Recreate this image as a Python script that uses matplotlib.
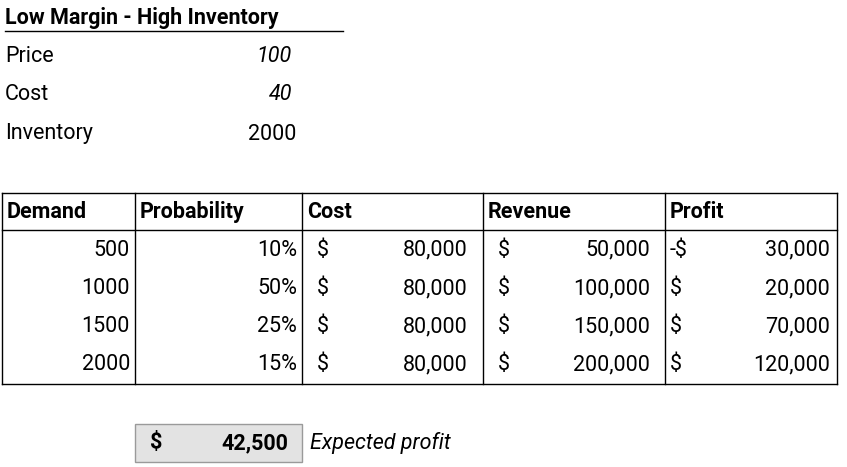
import matplotlib.pyplot as plt

plt.rcParams['font.family'] = ['Roboto', 'DejaVu Sans']

title = "Low Margin - High Inventory"
param_names = ["Price", "Cost", "Inventory"]
param_values = ["100", "40", "2000"]
param_italic = [True, True, False]

headers = ["Demand", "Probability", "Cost", "Revenue", "Profit"]
demand = [500, 1000, 1500, 2000]
probability = ["10%", "50%", "25%", "15%"]
cost = ["80,000"] * 4
revenue = ["50,000", "100,000", "150,000", "200,000"]
profit_sign = ["-$", "$", "$", "$"]
profit = ["30,000", "20,000", "70,000", "120,000"]
expected_profit = "42,500"

fig = plt.figure(figsize=(8.47, 4.67), dpi=100)
ax = fig.add_axes([0, 0, 1, 1])
ax.set_xlim(0, 847)
ax.set_ylim(467, 0)
ax.axis("off")
fs = 15.5

ax.text(5, 18, title, fontsize=fs, weight="bold", va="center")
ax.plot([5, 343], [31, 31], color="black", lw=1)

ys = [56, 95, 134]
for y, n, v, it in zip(ys, param_names, param_values, param_italic):
    ax.text(5, y, n, fontsize=fs, va="center")
    ax.text(292 if it else 296, y, v, fontsize=fs, va="center", ha="right",
            style="italic" if it else "normal")

# table grid
cols = [2, 135, 302, 483, 665, 837]
top, hdr, bot = 193, 230, 384
for y in [top, hdr, bot]:
    ax.plot([cols[0], cols[-1]], [y, y], color="black", lw=1)
for x in cols:
    ax.plot([x, x], [top, bot], color="black", lw=1)
for x, h in zip(cols[:-1], headers):
    ax.text(x + 5, 212, h, fontsize=fs, weight="bold", va="center")

row_ys = [250, 289, 327, 365]
for i, y in enumerate(row_ys):
    ax.text(130, y, str(demand[i]), fontsize=fs, va="center", ha="right")
    ax.text(297, y, probability[i], fontsize=fs, va="center", ha="right")
    ax.text(317, y, "$", fontsize=fs, va="center")
    ax.text(468, y, cost[i], fontsize=fs, va="center", ha="right")
    ax.text(498, y, "$", fontsize=fs, va="center")
    ax.text(650, y, revenue[i], fontsize=fs, va="center", ha="right")
    ax.text(670, y, profit_sign[i], fontsize=fs, va="center")
    ax.text(830, y, profit[i], fontsize=fs, va="center", ha="right")

# expected profit cell
ax.add_patch(plt.Rectangle((135, 424), 167, 38, facecolor="#e3e3e3",
                           edgecolor="#9a9a9a", lw=1))
ax.text(150, 443, "$", fontsize=fs, weight="bold", va="center")
ax.text(288, 443, expected_profit, fontsize=fs, weight="bold", va="center", ha="right")
ax.text(310, 443, "Expected profit", fontsize=fs, style="italic", va="center")

fig.savefig("out.png", dpi=100)
